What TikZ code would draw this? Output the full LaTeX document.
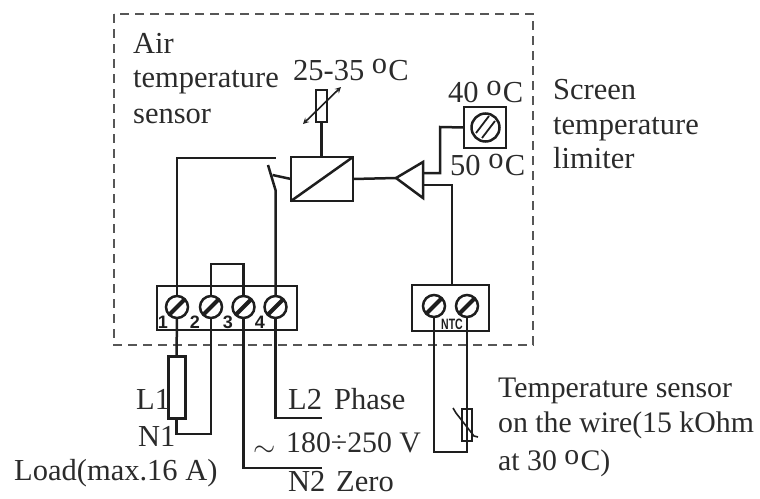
\documentclass[tikz,border=0pt]{standalone}
\usepackage{fontspec}
\setmainfont{Liberation Serif}
\setsansfont{Liberation Sans}
\usepackage{tikz}
\usetikzlibrary{arrows}
\newcommand{\dego}{\raisebox{0.2em}{o}\hspace{0.04em}C}
\definecolor{inkline}{HTML}{1E1E1E}
\definecolor{inktext}{HTML}{2B2B2B}

\begin{document}
\begin{tikzpicture}[x=1pt, y=-1pt, >=stealth]
		\tikzstyle{wire} = [draw=inkline, line width=2.5pt]
		\tikzstyle{label} = [anchor=base west, inner sep=0pt, text=inktext, font=\fontsize{30.5}{36}\selectfont]
		\tikzstyle{labelb} = [label, font=\fontsize{29.8}{36}\selectfont]
		\tikzstyle{pin} = [anchor=base, inner sep=0pt, text=inkline, font=\sffamily\bfseries\fontsize{18}{18}\selectfont]
		\tikzstyle{block} = [wire, inner sep=0pt, outer sep=0pt, anchor=north west]
		\tikzstyle{screw} = [wire, circle, minimum size=22pt, inner sep=0pt, outer sep=0pt, path picture={
			\draw[inkline, line width=4pt] (path picture bounding box.south west) -- (path picture bounding box.north east);}]

		\useasboundingbox (0,0) rectangle (760,498);

		\draw[draw=inkline!75, line width=1.3pt, dash pattern=on 9pt off 6pt] (114,14) rectangle (533,345);

		\node[block, minimum width=140pt, minimum height=44pt] (termA) at (157,286) {};
		\node[block, minimum width=77pt, minimum height=46pt] (termB) at (412,285) {};
		\node[screw] (s1) at (177,307) {};
		\node[screw] (s2) at (211,307) {};
		\node[screw] (s3) at (243.5,307) {};
		\node[screw] (s4) at (275.5,307) {};
		\node[screw] (s5) at (434,306) {};
		\node[screw] (s6) at (467,306) {};
		\node[pin] (p1) at (163,328) {1};
		\node[pin] (p2) at (195,328) {2};
		\node[pin] (p3) at (228,328) {3};
		\node[pin] (p4) at (260,328) {4};
		\node[pin, font=\sffamily\bfseries\fontsize{15}{15}\selectfont] (pntc) at (452,329) {\scalebox{0.7}[1]{NTC}};

		\node[block, minimum width=62pt, minimum height=44pt] (conv) at (291,157) {};
		\node[block, minimum width=11pt, minimum height=32pt] (pot) at (316,90) {};
		\node[block, minimum width=42pt, minimum height=41pt] (trim) at (464,107) {};
		\node[block, line width=3pt, minimum width=17pt, minimum height=62pt] (load) at (168,356) {};
		\node[block, minimum width=10pt, minimum height=32pt] (ntc) at (462,409) {};
		\node[wire, circle, minimum size=28pt, inner sep=0pt] (knob) at (485.5,127.5) {};
		\node[inner sep=0pt, minimum size=0pt] (amp) at (396,178) {};
		\coordinate (ampa) at (423,162);
		\coordinate (ampb) at (423,198);

		\draw[wire] (conv.south west) -- (conv.north east);
		\draw[wire, line join=miter] (amp.center) -- (ampa) -- (ampb) -- cycle;
		\draw[wire, line width=1.8pt] (476,133) -- (489,116);
		\draw[wire, line width=1.8pt] (482,138) -- (495,121);

		\coordinate (sw1) at (275.5,158);
		\coordinate (sw2) at (268,165);
		\coordinate (sw3) at (275.5,190);
		\coordinate (swm) at (272.5,175);
		\draw[wire] (s1.north) |- (sw1);
		\draw[wire] (sw2) -- (sw3) -- (s4.north);
		\draw[wire] (swm) -- (conv.west);
		\draw[wire] (s2.north) |- (243.5,264) -- (s3.north);
		\draw[wire] (conv.east) -- (amp.center);
		\draw[wire] (pot.south) -- (pot.south |- conv.north);
		\draw[wire] (423,173) -| (440,127) -- (trim.west);
		\draw[wire] (423,185) -| (452,285);

		\draw[wire, <->, line width=1.6pt] (303,124) -- (341,87);

		\draw[wire] (s1.south) -- (load.north);
		\draw[wire] (load.south) |- (211,434) -- (s2.south);
		\draw[wire] (s3.south) |- (322,468);
		\draw[wire] (s4.south) |- (322,418);
		\draw[wire] (s5.south) |- (467,452) -- (s6.south);
		\draw[wire, line width=1.6pt] (453,408) -- (456,413) -- (474,436) -- (478,437);

		\node[label] (air) at (133,53) {Air};
		\node[label] (airb) at (133,87) {temperature};
		\node[label] (airc) at (133,123) {sensor};
		\node[label] (set) at (293,80) {25-35 \dego};
		\node[label] (top) at (448,102) {40 \dego};
		\node[label] (low) at (450,175) {50 \dego};
		\node[label] (scr) at (553,99) {Screen};
		\node[label] (scrb) at (553,134) {temperature};
		\node[label] (scrc) at (553,168) {limiter};
		\node[label] (l1) at (136,409) {L1};
		\node[label] (n1) at (138,446) {N1};
		\node[label] (lod) at (14,480) {Load(max.16 A)};
		\node[label] (l2) at (288,409) {L2};
		\node[label] (ph) at (334,409) {Phase};
		\node[label] (tld) at (253,456) {\scalebox{1.15}{$\sim$}};
		\node[labelb] (volt) at (286,452) {180÷250 V};
		\node[label] (n2) at (288,491) {N2};
		\node[label] (zer) at (336,491) {Zero};
		\node[labelb] (tsa) at (498,397) {Temperature sensor};
		\node[labelb] (tsb) at (498,432) {on the wire(15 kOhm};
		\node[labelb] (tsc) at (498,470) {at 30 \dego)};
\end{tikzpicture}
\end{document}
